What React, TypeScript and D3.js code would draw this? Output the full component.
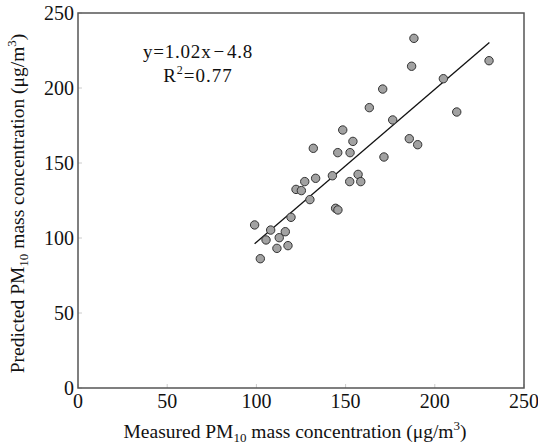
import React from "react";
import * as d3 from "d3";

const measured = [188.3, 187, 230.4, 204.8, 170.8, 212.3, 176.4, 185.7, 190.4, 171.5, 163.3,
  148.4, 154.1, 131.9, 145.6, 152.5, 157, 142.6, 133.2, 127.1, 152.3, 158.5, 122.2, 125.2,
  130, 144.4, 145.7, 119.4, 99, 108, 116.2, 105.4, 112.8, 117.7, 111.5, 102.2];
const predicted = [233.1, 214.5, 218.2, 206.2, 199.3, 184, 178.7, 166.2, 162.2, 154, 186.9,
  172, 164.4, 159.8, 156.9, 156.9, 142.4, 141.5, 139.8, 137.6, 137.6, 137.6, 132.4, 131.6,
  125.6, 119.8, 118.7, 113.8, 108.7, 105.3, 104.2, 98.7, 100.2, 94.9, 93.1, 86.2];
const xTicks = [0, 50, 100, 150, 200, 250];
const yTicks = [0, 50, 100, 150, 200, 250];
const slope = 1.02;
const intercept = -4.8;
const fitRange = [99, 230.6];

const W = 538, H = 447;
const L = 78, R = 524, T = 13, B = 388;
const font = "'Liberation Serif', 'Times New Roman', serif";

export default function App() {
  const x = d3.scaleLinear().domain([0, 250]).range([L, R]);
  const y = d3.scaleLinear().domain([0, 250]).range([B, T]);
  const line = d3.line<number>().x((d) => x(d)).y((d) => y(slope * d + intercept));
  return (
    <svg width={W} height={H} style={{ position: "absolute", left: 0, top: 0 }}
      fontFamily={font}>
      <rect x={0} y={0} width={W} height={H} fill="#fff" />
      {xTicks.map((t) => (
        <g key={"x" + t}>
          <line x1={x(t)} x2={x(t)} y1={B} y2={B - 4} stroke="#ccc" />
          <text x={x(t)} y={B + 20} fontSize={20} textAnchor="middle" fill="#111">{t}</text>
        </g>
      ))}
      {yTicks.map((t) => (
        <g key={"y" + t}>
          <line x1={L} x2={L + 4} y1={y(t)} y2={y(t)} stroke="#ccc" />
          <text x={L - 4} y={y(t) + 7} fontSize={20} textAnchor="end" fill="#111">{t}</text>
        </g>
      ))}
      <rect x={L} y={T} width={R - L} height={B - T} fill="none" stroke="#555" strokeWidth={1.5} />
      <path d={line(fitRange) || ""} stroke="#111" strokeWidth={1.3} fill="none" />
      {measured.map((m, i) => (
        <circle key={i} cx={x(m)} cy={y(predicted[i])} r={4.2} fill="#a2a2a2" stroke="#333" strokeWidth={1} />
      ))}
      <text x={198} y={58} fontSize={19} letterSpacing={0.8} textAnchor="middle" fill="#111">
        y=1.02x<tspan dx={2}>−</tspan><tspan dx={2}>4.8</tspan>
      </text>
      <text x={198} y={82} fontSize={19} letterSpacing={1} textAnchor="middle" fill="#111">
        R<tspan fontSize={12} dy={-8}>2</tspan><tspan dy={8}>=0.77</tspan>
      </text>
      <text x={295} y={438} fontSize={19.5} textAnchor="middle" fill="#111">
        Measured PM<tspan fontSize={13} dy={4}>10</tspan><tspan dy={-4}> mass concentration (μg/m</tspan><tspan fontSize={13} dy={-8}>3</tspan><tspan dy={8}>)</tspan>
      </text>
      <text transform={`translate(24,${(T + B) / 2 + 3}) rotate(-90)`} fontSize={19.5} textAnchor="middle" fill="#111">
        Predicted PM<tspan fontSize={13} dy={4}>10</tspan><tspan dy={-4}> mass concentration (μg/m</tspan><tspan fontSize={13} dy={-8}>3</tspan><tspan dy={8}>)</tspan>
      </text>
    </svg>
  );
}
